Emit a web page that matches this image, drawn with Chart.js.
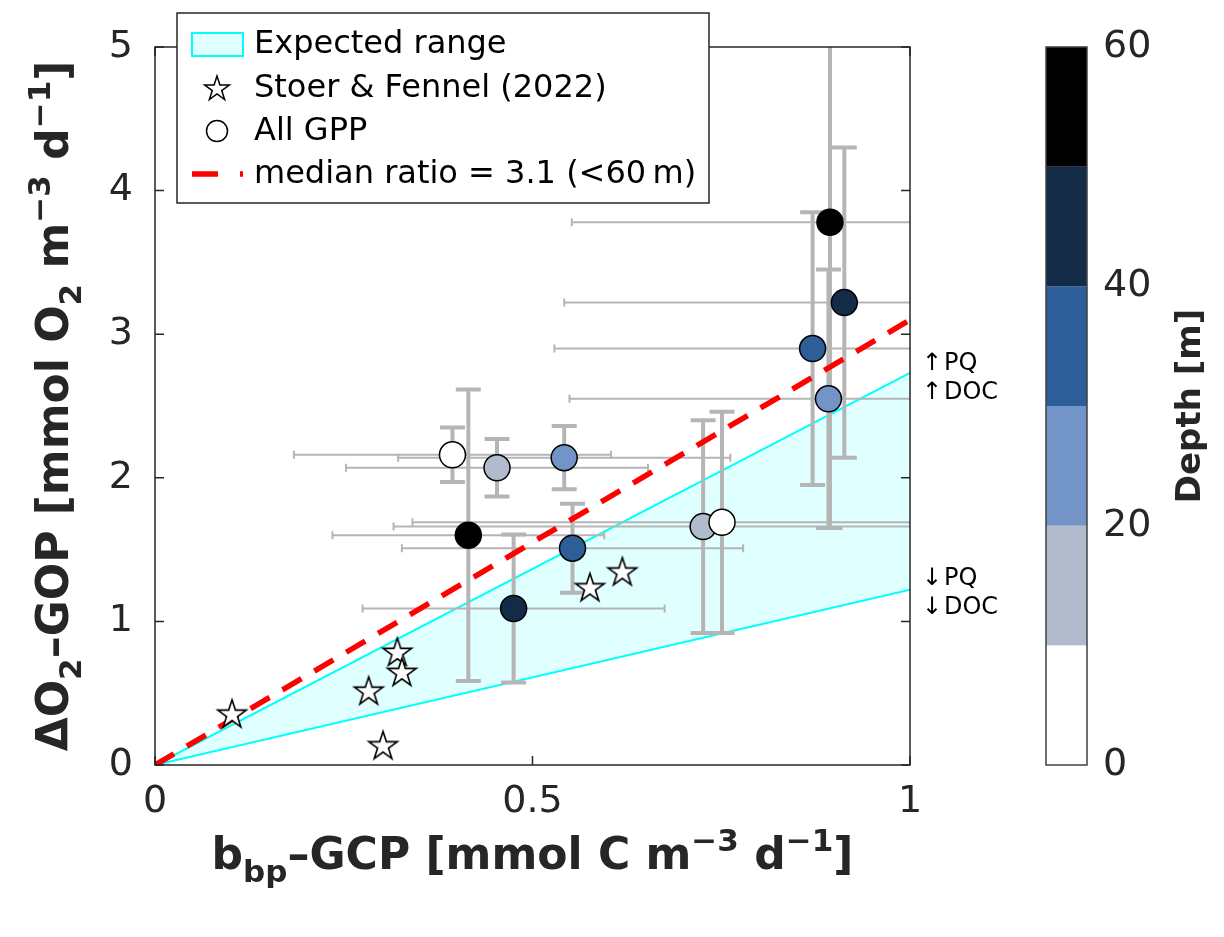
<!DOCTYPE html>
<html>
<head>
<meta charset="utf-8">
<script src="https://cdn.jsdelivr.net/npm/chart.js@4.4.1/dist/chart.umd.min.js"></script>
<style>
  html, body { margin: 0; padding: 0; background: #fff; }
  #wrap { width: 1224px; height: 937px; }
</style>
</head>
<body>
<div id="wrap"><canvas id="chart" width="1224" height="937"></canvas></div>
<script>
// values
const gppX     = [0.394, 0.453, 0.542, 0.415, 0.553, 0.475, 0.726, 0.751, 0.894, 0.913, 0.871, 0.892];
const gppY     = [2.16, 2.07, 2.14, 1.60, 1.51, 1.09, 1.66, 1.69, 3.78, 3.22, 2.90, 2.55];
const gppXErr  = [0.21, 0.20, 0.22, 0.18, 0.226, 0.20, 0.41, 0.41, 0.342, 0.371, 0.342, 0.343];
const gppYErr  = [0.19, 0.20, 0.22, 1.015, 0.31, 0.515, 0.74, 0.77, 2.13, 1.08, 0.95, 0.90];
const gppDepth = [5, 15, 25, 55, 35, 45, 15, 5, 55, 45, 35, 25];

const stoerX = [0.102, 0.283, 0.302, 0.321, 0.327, 0.576, 0.619];
const stoerY = [0.35, 0.51, 0.13, 0.78, 0.64, 1.23, 1.34];

const lineX     = [0, 1];
const rangeHigh = [0, 2.73];
const rangeLow  = [0, 1.22];
const medianY   = [0, 3.1];

const depthEdges  = [0, 10, 20, 30, 40, 50, 60];
const depthColors = ['#ffffff', '#b1bbcc', '#7394c7', '#2d5e98', '#132b47', '#000000'];

const FONT = 'DejaVu Sans';
const AXIS = '#262626';

function depthColor(d) {
  for (let i = 0; i < depthColors.length; i++) {
    if (d < depthEdges[i + 1]) return depthColors[i];
  }
  return depthColors[depthColors.length - 1];
}

function starPath(g, cx, cy, R) {
  g.beginPath();
  for (let i = 0; i < 10; i++) {
    const r = i % 2 === 0 ? R : R * 0.382;
    const a = -Math.PI / 2 + i * Math.PI / 5;
    g.lineTo(cx + r * Math.cos(a), cy + r * Math.sin(a));
  }
  g.closePath();
}

function makeStar(R) {
  const c = document.createElement('canvas');
  const s = Math.ceil(2 * R + 6);
  c.width = s; c.height = s;
  const g = c.getContext('2d');
  starPath(g, s / 2, s / 2, R);
  g.fillStyle = '#fff'; g.fill();
  g.lineWidth = 1.6; g.strokeStyle = '#000'; g.stroke();
  return c;
}

// text with sub/superscripts: parts = [[text, 'n'|'sub'|'sup'], ...]
function drawRich(ctx, parts, cx, baseY, size, weight) {
  const fontFor = m => weight + ' ' + (m === 'n' ? size : Math.round(size * 0.7)) + 'px ' + FONT;
  let total = 0;
  parts.forEach(([t, m]) => { ctx.font = fontFor(m); total += ctx.measureText(t).width; });
  let x = cx - total / 2;
  ctx.textAlign = 'left';
  ctx.textBaseline = 'alphabetic';
  parts.forEach(([t, m]) => {
    ctx.font = fontFor(m);
    const dy = m === 'sub' ? size * 0.3 : (m === 'sup' ? -size * 0.42 : 0);
    ctx.fillText(t, x, baseY + dy);
    x += ctx.measureText(t).width;
  });
}

const xTitle = [['b', 'n'], ['bp', 'sub'], ['\u2013GCP [mmol C m', 'n'], ['\u22123', 'sup'], [' d', 'n'], ['\u22121', 'sup'], [']', 'n']];
const yTitle = [['\u0394O', 'n'], ['2', 'sub'], ['\u2013GOP [mmol O', 'n'], ['2', 'sub'], [' m', 'n'], ['\u22123', 'sup'], [' d', 'n'], ['\u22121', 'sup'], [']', 'n']];

// axis box with inward ticks on all sides
const frame = {
  id: 'frame',
  afterDatasetsDraw(chart) {
    const { ctx, chartArea: a, scales: { x, y } } = chart;
    ctx.save();
    ctx.strokeStyle = AXIS;
    ctx.lineWidth = 1.5;
    ctx.strokeRect(a.left, a.top, a.right - a.left, a.bottom - a.top);
    ctx.beginPath();
    x.ticks.forEach(t => {
      const px = x.getPixelForValue(t.value);
      ctx.moveTo(px, a.bottom); ctx.lineTo(px, a.bottom - 9);
      ctx.moveTo(px, a.top); ctx.lineTo(px, a.top + 9);
    });
    y.ticks.forEach(t => {
      const py = y.getPixelForValue(t.value);
      ctx.moveTo(a.left, py); ctx.lineTo(a.left + 9, py);
      ctx.moveTo(a.right, py); ctx.lineTo(a.right - 9, py);
    });
    ctx.stroke();
    ctx.restore();
  }
};

// error bars, drawn after the expected-range band
const errorBars = {
  id: 'errorBars',
  afterDatasetDraw(chart, args) {
    if (args.index !== 3) return;
    const { ctx, chartArea: a, scales: { x, y } } = chart;
    ctx.save();
    ctx.beginPath();
    ctx.rect(a.left, a.top, a.right - a.left, a.bottom - a.top);
    ctx.clip();
    ctx.strokeStyle = '#b5b5b5';
    ctx.lineWidth = 2;
    gppX.forEach((v, i) => {
      const py = y.getPixelForValue(gppY[i]);
      const l = x.getPixelForValue(v - gppXErr[i]);
      const r = x.getPixelForValue(v + gppXErr[i]);
      ctx.beginPath();
      ctx.moveTo(l, py); ctx.lineTo(r, py);
      ctx.moveTo(l, py - 4); ctx.lineTo(l, py + 4);
      ctx.moveTo(r, py - 4); ctx.lineTo(r, py + 4);
      ctx.stroke();
    });
    ctx.lineWidth = 4;
    gppX.forEach((v, i) => {
      const px = x.getPixelForValue(v);
      const t = y.getPixelForValue(gppY[i] + gppYErr[i]);
      const b = y.getPixelForValue(gppY[i] - gppYErr[i]);
      ctx.beginPath();
      ctx.moveTo(px, t); ctx.lineTo(px, b);
      ctx.moveTo(px - 12.5, t); ctx.lineTo(px + 12.5, t);
      ctx.moveTo(px - 12.5, b); ctx.lineTo(px + 12.5, b);
      ctx.stroke();
    });
    ctx.restore();
  }
};

// depth colour bar, placed on the right-hand depth scale
const colorbar = {
  id: 'colorbar',
  afterDraw(chart) {
    const { ctx, scales: { depth } } = chart;
    const x0 = 1046, w = 41;
    ctx.save();
    for (let i = 0; i < depthColors.length; i++) {
      const top = depth.getPixelForValue(depthEdges[i + 1]);
      const bot = depth.getPixelForValue(depthEdges[i]);
      ctx.fillStyle = depthColors[i];
      ctx.fillRect(x0, top, w, bot - top);
    }
    ctx.strokeStyle = '#404040';
    ctx.lineWidth = 1.5;
    ctx.strokeRect(x0, depth.top, w, depth.bottom - depth.top);

    ctx.fillStyle = AXIS;
    ctx.font = '38px ' + FONT;
    ctx.textAlign = 'left';
    ctx.textBaseline = 'middle';
    depth.ticks.forEach(t => {
      ctx.fillText(String(t.value), 1103, depth.getPixelForValue(t.value));
    });

    ctx.translate(1200, (depth.top + depth.bottom) / 2);
    ctx.rotate(-Math.PI / 2);
    ctx.font = 'bold 34px ' + FONT;
    ctx.textAlign = 'center';
    ctx.textBaseline = 'alphabetic';
    ctx.fillText('Depth [m]', 0, 0);
    ctx.restore();
  }
};

const titles = {
  id: 'titles',
  afterDraw(chart) {
    const { ctx, chartArea: a } = chart;
    ctx.save();
    ctx.fillStyle = AXIS;
    drawRich(ctx, xTitle, (a.left + a.right) / 2, 869, 44, 'bold');
    ctx.translate(68, (a.top + a.bottom) / 2);
    ctx.rotate(-Math.PI / 2);
    drawRich(ctx, yTitle, 0, 0, 44, 'bold');
    ctx.restore();

    // PQ / DOC notes beside the band edges
    ctx.save();
    ctx.fillStyle = '#000';
    ctx.font = '24px ' + FONT;
    ctx.textBaseline = 'middle';
    [['\u2191', 'PQ', 364], ['\u2191', 'DOC', 393], ['\u2193', 'PQ', 579], ['\u2193', 'DOC', 608]].forEach(([arr, txt, py]) => {
      ctx.textAlign = 'center';
      ctx.fillText(arr, 932, py);
      ctx.textAlign = 'left';
      ctx.fillText(txt, 944, py);
    });
    ctx.restore();
  }
};

const legendBox = {
  id: 'legendBox',
  afterDraw(chart) {
    const { ctx } = chart;
    ctx.save();
    ctx.fillStyle = '#fff';
    ctx.fillRect(177, 13, 532, 190);
    ctx.strokeStyle = AXIS;
    ctx.lineWidth = 1.5;
    ctx.strokeRect(177, 13, 532, 190);

    ctx.fillStyle = '#e0ffff';
    ctx.fillRect(192, 33, 51, 23);
    ctx.strokeStyle = '#00ffff';
    ctx.lineWidth = 2;
    ctx.strokeRect(192, 33, 51, 23);

    starPath(ctx, 217, 89, 13);
    ctx.fillStyle = '#fff'; ctx.fill();
    ctx.strokeStyle = '#000'; ctx.lineWidth = 1.5; ctx.stroke();

    ctx.beginPath();
    ctx.arc(217, 131, 10.5, 0, Math.PI * 2);
    ctx.fillStyle = '#fff'; ctx.fill(); ctx.stroke();

    ctx.strokeStyle = '#ff0000';
    ctx.lineWidth = 5.5;
    ctx.beginPath();
    ctx.moveTo(192, 174); ctx.lineTo(218, 174);
    ctx.moveTo(240, 174); ctx.lineTo(243, 174);
    ctx.stroke();

    ctx.fillStyle = '#000';
    ctx.font = '32px ' + FONT;
    ctx.textAlign = 'left';
    ctx.textBaseline = 'middle';
    ctx.fillText('Expected range', 254, 45);
    ctx.fillText('Stoer & Fennel (2022)', 254, 89);
    ctx.fillText('All GPP', 254, 132);
    ctx.fillText('median ratio = 3.1 (<60\u2009m)', 254, 175);
    ctx.restore();
  }
};

Chart.defaults.font.family = FONT;
Chart.defaults.color = AXIS;

const starImg = makeStar(15);

const ctx = document.getElementById('chart').getContext('2d');
const chart = new Chart(ctx, {
  type: 'scatter',
  data: {
    datasets: [
      {
        label: 'All GPP',
        data: gppX.map((v, i) => ({ x: v, y: gppY[i] })),
        pointRadius: 13,
        pointBackgroundColor: gppDepth.map(depthColor),
        pointBorderColor: '#000',
        pointBorderWidth: 1.5,
        order: 0,
      },
      {
        label: 'Stoer & Fennel (2022)',
        data: stoerX.map((v, i) => ({ x: v, y: stoerY[i] })),
        pointStyle: starImg,
        order: 1,
      },
      {
        label: 'median ratio = 3.1 (<60 m)',
        type: 'line',
        data: lineX.map((v, i) => ({ x: v, y: medianY[i] })),
        borderColor: '#ff0000',
        borderWidth: 5.5,
        borderDash: [22, 15],
        pointRadius: 0,
        fill: false,
        order: 2,
      },
      {
        label: 'Expected range',
        type: 'line',
        data: lineX.map((v, i) => ({ x: v, y: rangeHigh[i] })),
        borderColor: '#00ffff',
        borderWidth: 2,
        backgroundColor: '#e0ffff',
        fill: '+1',
        pointRadius: 0,
        order: 4,
      },
      {
        label: 'range low',
        type: 'line',
        data: lineX.map((v, i) => ({ x: v, y: rangeLow[i] })),
        borderColor: '#00ffff',
        borderWidth: 2,
        fill: false,
        pointRadius: 0,
        order: 5,
      },
    ],
  },
  options: {
    responsive: false,
    animation: false,
    devicePixelRatio: 1,
    layout: { padding: { top: 47, left: 0, right: 0, bottom: 0 } },
    plugins: {
      legend: { display: false },
      tooltip: { enabled: false },
      filler: { drawTime: 'beforeDatasetsDraw' },
    },
    scales: {
      x: {
        type: 'linear', min: 0, max: 1,
        ticks: {
          stepSize: 0.5, padding: 14, font: { size: 38 }, color: AXIS, maxRotation: 0,
          callback: v => String(Math.round(v * 10) / 10),
        },
        grid: { display: false, drawTicks: false },
        border: { display: false },
        afterFit(s) { s.height = 172; },
      },
      y: {
        type: 'linear', min: 0, max: 5,
        ticks: { stepSize: 1, padding: 22, font: { size: 38 }, color: AXIS },
        grid: { display: false, drawTicks: false },
        border: { display: false },
        afterFit(s) { s.width = 155; },
      },
      depth: {
        type: 'linear', position: 'right', min: 0, max: 60,
        ticks: { stepSize: 20, display: false },
        grid: { display: false, drawTicks: false },
        border: { display: false },
        afterFit(s) { s.width = 314; },
      },
    },
  },
  plugins: [errorBars, frame, colorbar, titles, legendBox],
});
</script>
</body>
</html>
